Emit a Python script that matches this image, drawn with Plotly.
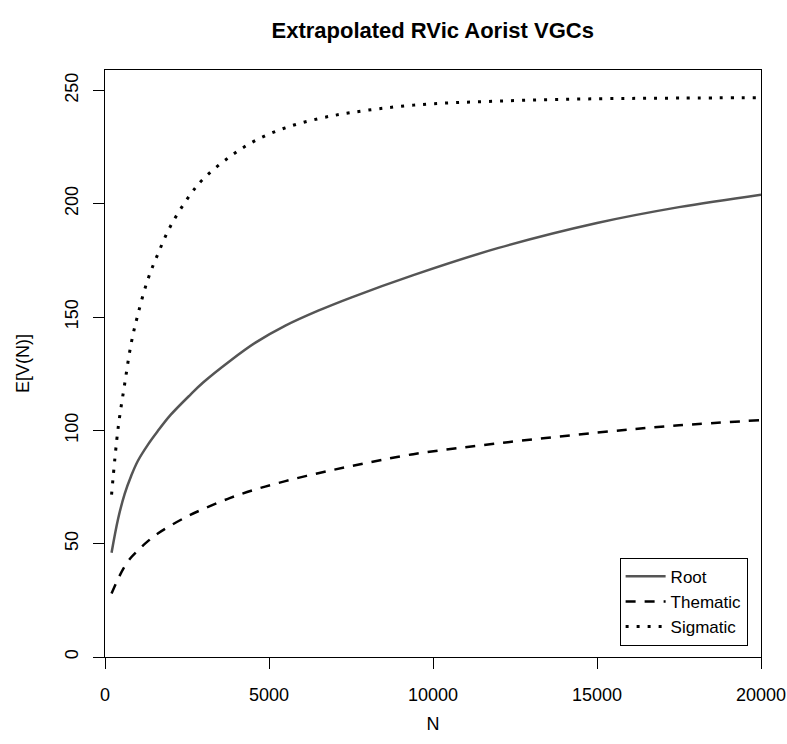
import plotly.graph_objects as go

N = [200, 400, 600, 800, 1000, 1300, 1600, 2000, 2600, 3000, 3800, 4600,
     5500, 6500, 7500, 9400, 12000, 15000, 17500, 20000]
root = [46, 61, 72, 80, 86.5, 93.5, 99.5, 106.8, 115.7, 121.2, 130.5, 138.8,
        146.2, 152.8, 158.6, 168.5, 180.5, 191.5, 198.5, 204]
thematic = [28, 34.5, 40, 44, 47, 51, 54.4, 58, 62.7, 65.3, 70.1, 74,
            77.6, 81.1, 84.2, 89.5, 94.3, 99, 102.2, 104.5]
sigmatic = [71.6, 101, 120.5, 138.5, 151, 166.3, 177.4, 190.2, 204, 211, 220.7, 228,
            233.5, 237.5, 240.2, 243.5, 245.3, 246.3, 246.6, 246.8]

x_ticks = [0, 5000, 10000, 15000, 20000]
y_ticks = [0, 50, 100, 150, 200, 250]

FONT = "Liberation Sans, Arial, sans-serif"

fig = go.Figure()
fig.add_trace(go.Scatter(x=N, y=root, name="Root", mode="lines",
                         line=dict(color="#555555", width=2.5, shape="spline")))
fig.add_trace(go.Scatter(x=N, y=thematic, name="Thematic", mode="lines",
                         line=dict(color="black", width=2.5, dash="10px,9px", shape="spline")))
fig.add_trace(go.Scatter(x=N, y=sigmatic, name="Sigmatic", mode="lines",
                         line=dict(color="black", width=3, dash="3px,8px", shape="spline")))

fig.update_layout(
    width=787, height=744,
    margin=dict(l=105, r=26, t=70, b=87, autoexpand=False),
    paper_bgcolor="white", plot_bgcolor="white",
    font=dict(family=FONT, size=18, color="black"),
    title=dict(text="<b>Extrapolated RVic Aorist VGCs</b>", x=432.7 / 787, xanchor="center",
               y=1 - 30 / 744, yanchor="middle", font=dict(size=22, family=FONT),
               automargin=False),
    showlegend=True,
    legend=dict(x=0.9796, y=0.0192, xanchor="right", yanchor="bottom",
                bgcolor="white", bordercolor="black", borderwidth=1,
                itemwidth=40, entrywidth=140, entrywidthmode="pixels",
                font=dict(size=17, family=FONT), tracegroupgap=0),
)
fig.update_xaxes(range=[0, 20000], tickvals=x_ticks, ticktext=[str(v) for v in x_ticks],
                 showgrid=False, zeroline=False, showline=True, mirror=True,
                 linecolor="black", linewidth=1, ticks="outside", ticklen=11,
                 tickcolor="black", ticklabelstandoff=10, automargin=False,
                 title=dict(text="N", standoff=13, font=dict(size=18)))
fig.update_yaxes(range=[0, 259], tickvals=y_ticks, ticktext=[str(v) for v in y_ticks],
                 showgrid=False, zeroline=False, showline=True, mirror=True,
                 linecolor="black", linewidth=1, ticks="outside", ticklen=11,
                 tickcolor="black", tickangle=-90, ticklabelstandoff=8, automargin=False,
                 title=dict(text="E[V(N)]", standoff=27, font=dict(size=18)))

fig.write_html("out.html", config={"displayModeBar": False},
               post_script="document.body.style.margin='0';")
